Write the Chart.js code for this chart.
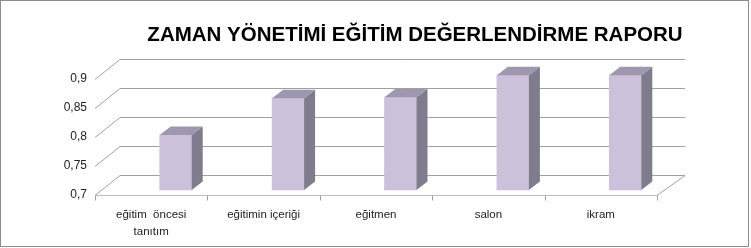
<!DOCTYPE html>
<html>
<head>
<meta charset="utf-8">
<script src="https://cdn.jsdelivr.net/npm/chart.js@4.4.1/dist/chart.umd.min.js"></script>
<style>
  html, body { margin: 0; padding: 0; background: #fff; }
  canvas { display: block; }
</style>
</head>
<body>
<canvas id="chart" width="751" height="248"></canvas>
<script>
// ---- data ----
const TITLE = 'ZAMAN YÖNETİMİ EĞİTİM DEĞERLENDİRME RAPORU';
const categories = [['eğitim  öncesi', 'tanıtım'], 'eğitimin içeriği', 'eğitmen', 'salon', 'ikram'];
const scores = [0.795, 0.858, 0.86, 0.898, 0.898];
const yTicks = [0.7, 0.75, 0.8, 0.85, 0.9];

// ---- fake 3d look ----
const WALL_DX_L = 25, WALL_DX_R = 28, WALL_DY = -20;
const BAR_SHIFT_X = 24.5, BAR_SHIFT_Y = -5;
const BAR_DX = 11, BAR_DY = -8.5;
const FRONT = '#ccc1da', SIDE = '#807b8d', TOP = '#9f97ad';
const GRID = '#a0a0a0';

const fmt = v => String(Number(v.toFixed(2))).replace('.', ',');

const box3d = {
    id: 'box3d',
    beforeDatasetsDraw(chart) {
        const { ctx, chartArea: a, scales: { x, y } } = chart;
        ctx.save();
        ctx.lineWidth = 1;
        ctx.strokeStyle = GRID;
        const bl = a.left + WALL_DX_L, br = a.right + WALL_DX_R;
        yTicks.forEach(v => {
            const py = Math.round(y.getPixelForValue(v)) + 0.5;
            ctx.beginPath();
            ctx.moveTo(a.left, py);
            ctx.lineTo(bl, py + WALL_DY);
            ctx.lineTo(br, py + WALL_DY);
            ctx.stroke();
        });
        // floor
        const fy = Math.round(y.getPixelForValue(yTicks[0])) + 0.5;
        ctx.beginPath();
        ctx.moveTo(a.right, fy);
        ctx.lineTo(br, fy + WALL_DY);
        ctx.stroke();
        ctx.strokeStyle = '#bdbdbd';
        ctx.beginPath();
        ctx.moveTo(a.left, fy);
        ctx.lineTo(a.right, fy);
        ctx.stroke();
        // category tick marks
        ctx.strokeStyle = GRID;
        const half = (x.getPixelForValue(1) - x.getPixelForValue(0)) / 2;
        for (let i = 0; i <= categories.length; i++) {
            const px = Math.round(x.getPixelForValue(0) - half + i * half * 2) + 0.5;
            ctx.beginPath();
            ctx.moveTo(px, fy);
            ctx.lineTo(px, fy + 5);
            ctx.stroke();
        }
        ctx.restore();

        // bars sit a bit behind the front edge
        ctx.save();
        ctx.translate(BAR_SHIFT_X, BAR_SHIFT_Y);
    },
    afterDatasetsDraw(chart) {
        const { ctx } = chart;
        chart.getDatasetMeta(0).data.forEach(el => {
            const { x, y, base, width } = el.getProps(['x', 'y', 'base', 'width'], true);
            const l = x - width / 2, r = x + width / 2;
            ctx.fillStyle = SIDE;
            ctx.beginPath();
            ctx.moveTo(r, y);
            ctx.lineTo(r + BAR_DX, y + BAR_DY);
            ctx.lineTo(r + BAR_DX, base + BAR_DY);
            ctx.lineTo(r, base);
            ctx.closePath();
            ctx.fill();
            ctx.fillStyle = TOP;
            ctx.beginPath();
            ctx.moveTo(l, y);
            ctx.lineTo(l + BAR_DX, y + BAR_DY);
            ctx.lineTo(r + BAR_DX, y + BAR_DY);
            ctx.lineTo(r, y);
            ctx.closePath();
            ctx.fill();
        });
        ctx.restore();
    },
    afterDraw(chart) {
        const { ctx, width, height } = chart;
        ctx.save();
        ctx.strokeStyle = '#8c8c8c';
        ctx.lineWidth = 1;
        ctx.strokeRect(0.5, 0.5, width - 3, height - 2);
        ctx.fillStyle = '#000';
        ctx.font = 'bold 20.5px "Liberation Sans"';
        ctx.textAlign = 'center';
        ctx.textBaseline = 'alphabetic';
        ctx.fillText(TITLE, 415, 41);
        ctx.restore();
    }
};

new Chart(document.getElementById('chart'), {
    type: 'bar',
    data: {
        labels: categories,
        datasets: [{
            data: scores,
            base: yTicks[0],
            backgroundColor: FRONT,
            borderWidth: 0,
            barThickness: 32,
            clip: false
        }]
    },
    options: {
        responsive: false,
        animation: false,
        layout: { padding: { top: 79, right: 94, left: 0, bottom: 0 } },
        plugins: { legend: { display: false }, tooltip: { enabled: false } },
        scales: {
            x: {
                grid: { display: false, drawTicks: false },
                border: { display: false },
                ticks: {
                    color: '#222',
                    padding: 11,
                    maxRotation: 0,
                    autoSkip: false,
                    font: { family: 'Liberation Sans', size: 11.5, lineHeight: 1.5 }
                },
                afterFit: s => { s.height = 53; }
            },
            y: {
                min: 0.7,
                max: 0.9,
                grid: { display: false, drawTicks: false },
                border: { display: false },
                afterBuildTicks: s => { s.ticks = yTicks.map(v => ({ value: v })); },
                ticks: {
                    color: '#222',
                    padding: 8,
                    callback: v => fmt(v),
                    font: { family: 'Liberation Sans', size: 12 }
                },
                afterFit: s => { s.width = 95; }
            }
        }
    },
    plugins: [box3d]
});
</script>
</body>
</html>
